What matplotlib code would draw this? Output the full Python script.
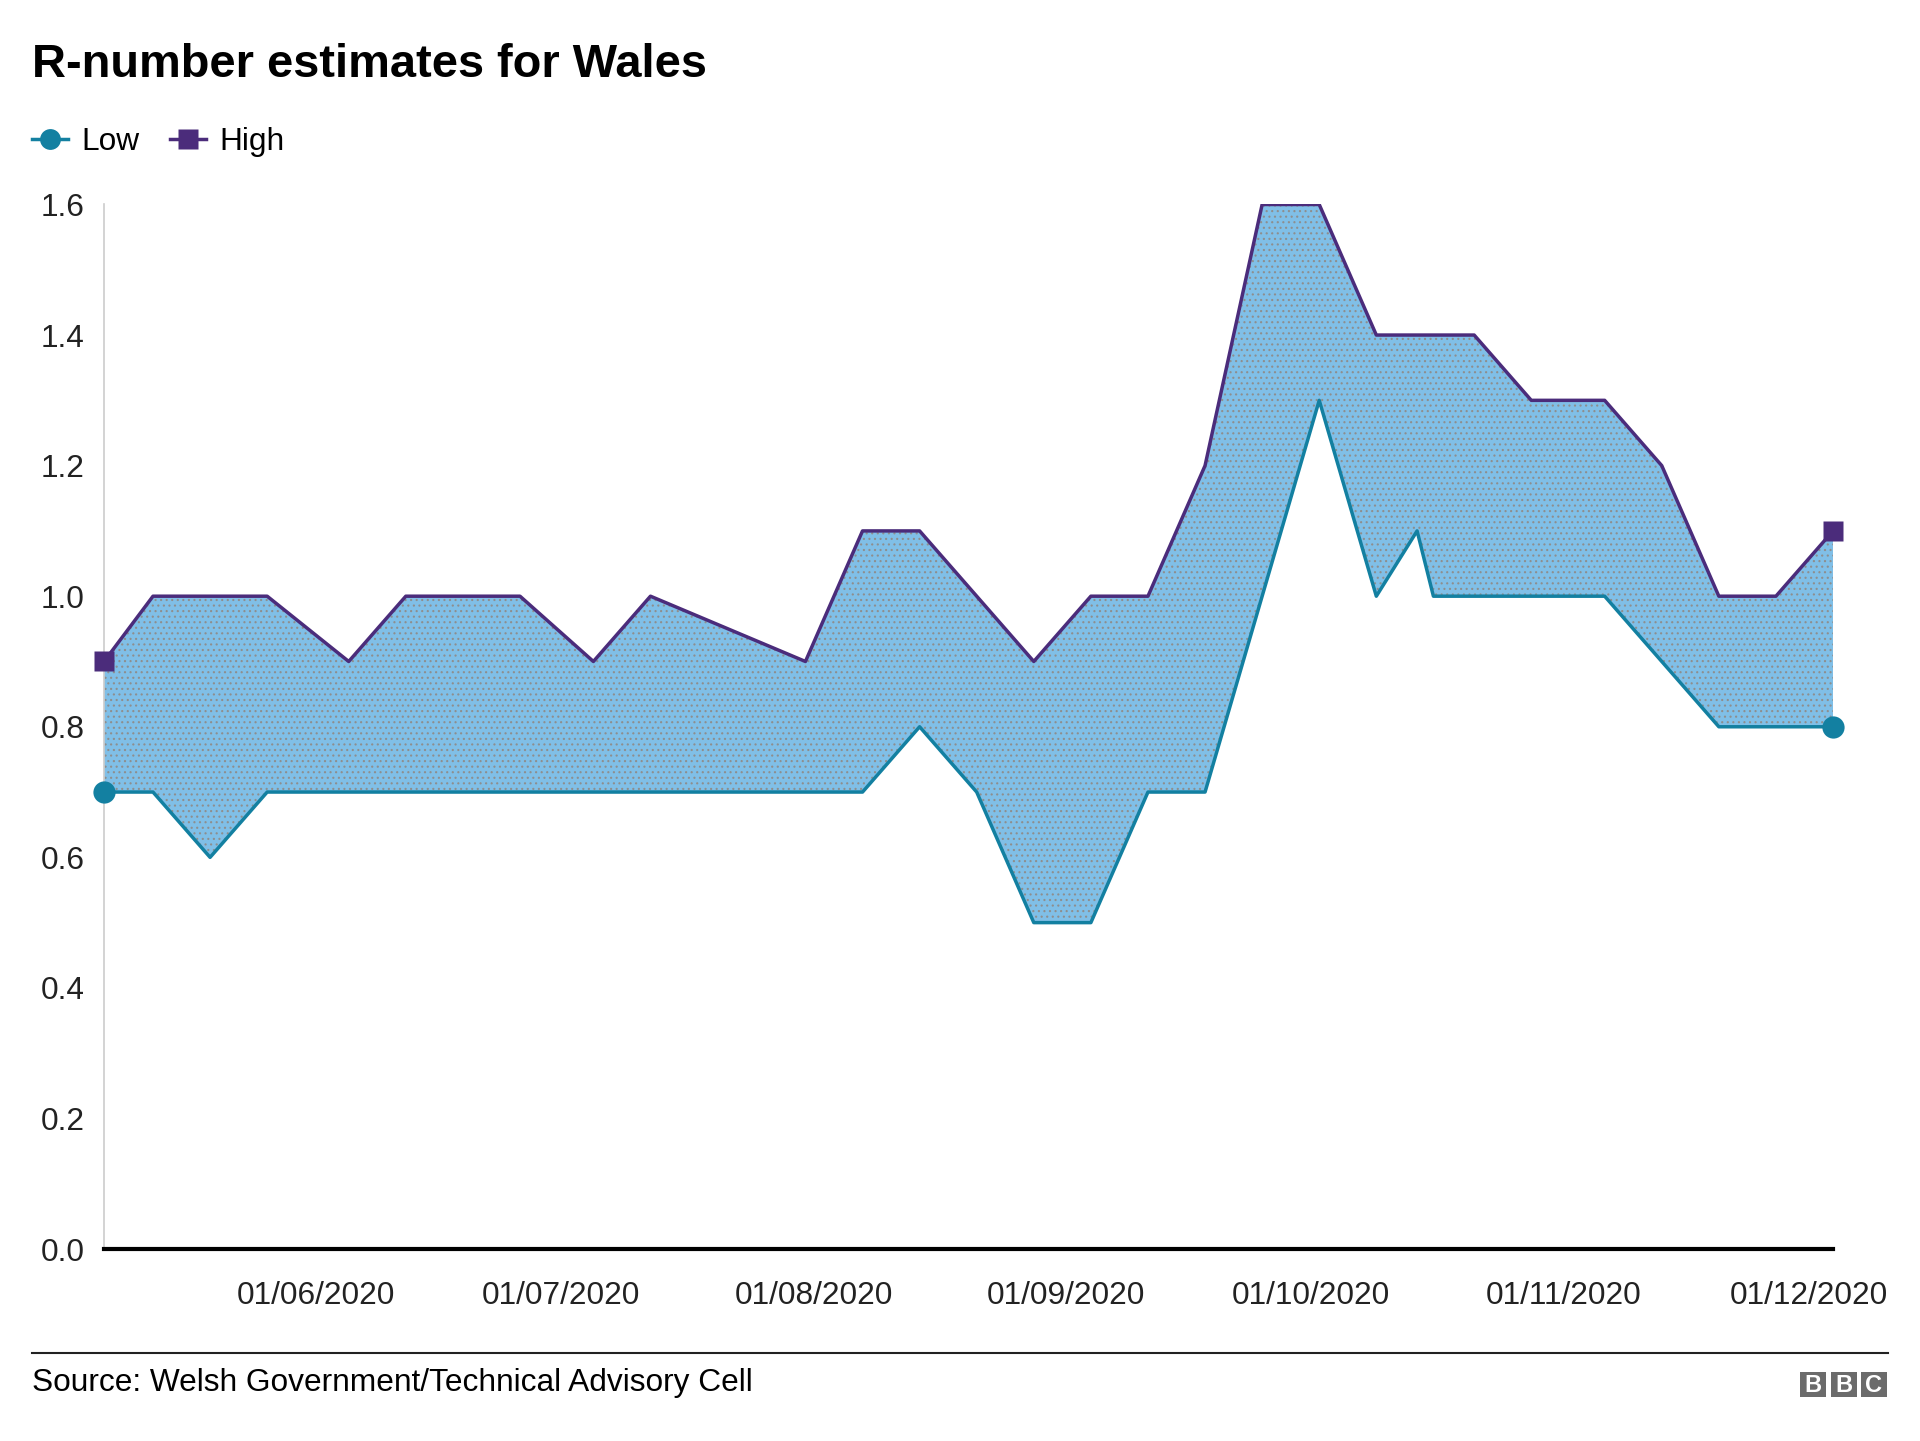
import numpy as np
import matplotlib
matplotlib.use("Agg")
import matplotlib.pyplot as plt
import matplotlib.dates as mdates
from matplotlib.lines import Line2D
from matplotlib.patches import Rectangle

plt.rcParams['font.family'] = ['Liberation Sans', 'DejaVu Sans']
plt.rcParams['hatch.linewidth'] = 0.8

# Data
high_dates = np.array(["2020-05-06", "2020-05-12", "2020-05-26", "2020-06-05", "2020-06-12",
                       "2020-06-26", "2020-07-05", "2020-07-12", "2020-07-31", "2020-08-07",
                       "2020-08-14", "2020-08-28", "2020-09-04", "2020-09-11", "2020-09-18",
                       "2020-09-25", "2020-10-02", "2020-10-09", "2020-10-21", "2020-10-28",
                       "2020-11-06", "2020-11-13", "2020-11-20", "2020-11-27", "2020-12-04"],
                      dtype="datetime64[D]")
high = np.array([0.9, 1.0, 1.0, 0.9, 1.0, 1.0, 0.9, 1.0, 0.9, 1.1, 1.1, 0.9, 1.0, 1.0, 1.2,
                 1.6, 1.6, 1.4, 1.4, 1.3, 1.3, 1.2, 1.0, 1.0, 1.1])

low_dates = np.array(["2020-05-06", "2020-05-12", "2020-05-19", "2020-05-26", "2020-08-07",
                      "2020-08-14", "2020-08-21", "2020-08-28", "2020-09-04", "2020-09-11",
                      "2020-09-18", "2020-10-02", "2020-10-09", "2020-10-14", "2020-10-16",
                      "2020-11-06", "2020-11-20", "2020-11-27", "2020-12-04"],
                     dtype="datetime64[D]")
low = np.array([0.7, 0.7, 0.6, 0.7, 0.7, 0.8, 0.7, 0.5, 0.5, 0.7, 0.7, 1.3, 1.0, 1.1, 1.0,
                1.0, 0.8, 0.8, 0.8])

month_ticks = np.array(["2020-06-01", "2020-07-01", "2020-08-01", "2020-09-01",
                        "2020-10-01", "2020-11-01", "2020-12-01"], dtype="datetime64[D]")
y_ticks = [0.0, 0.2, 0.4, 0.6, 0.8, 1.0, 1.2, 1.4, 1.6]

low_col = '#1380A1'
high_col = '#4B2C7B'
fill_col = '#80bfe7'
dot_col = '#8e8e8e'
fs = 22.8

fig = plt.figure(figsize=(19.2, 14.41), dpi=100)
ax = fig.add_axes([0.0542, 0.1332, 0.9005, 0.7249])

# Shaded band between the two estimates (dotted texture like the original)
band_x = np.concatenate([high_dates, low_dates[::-1]])
band_y = np.concatenate([high, low[::-1]])
ax.fill(band_x, band_y, facecolor=fill_col, edgecolor=dot_col, linewidth=0,
        hatch='...', zorder=1)

ax.plot(low_dates, low, color=low_col, lw=2.5, zorder=3)
ax.plot(high_dates, high, color=high_col, lw=2.5, zorder=3)

# End markers
ax.plot(low_dates[[0, -1]], low[[0, -1]], 'o', color=low_col, ms=16, mec='none', clip_on=False, zorder=4)
ax.plot(high_dates[[0, -1]], high[[0, -1]], 's', color=high_col, ms=15, mec='none', clip_on=False, zorder=4)

ax.set_xlim(high_dates[0], high_dates[-1])
ax.set_ylim(0, 1.6)
ax.set_yticks(y_ticks)
ax.set_yticklabels([f"{v:.1f}" for v in y_ticks])
ax.set_xticks(month_ticks)
ax.xaxis.set_major_formatter(mdates.DateFormatter("%d/%m/%Y"))
ax.tick_params(axis='both', length=0, labelsize=fs, colors='#222222')
ax.tick_params(axis='x', pad=23)
ax.tick_params(axis='y', pad=14)

for s in ['top', 'right']:
    ax.spines[s].set_visible(False)
ax.spines['left'].set_color('#cccccc')
ax.spines['left'].set_linewidth(1.2)
ax.spines['bottom'].set_color('#000000')
ax.spines['bottom'].set_linewidth(3)
ax.spines['bottom'].set_zorder(5)

# Title and legend
fig.text(0.0167, 0.9465, "R-number estimates for Wales", fontsize=33.8, fontweight='bold',
         ha='left', va='baseline', color='#000000')

handles = [Line2D([0], [0], color=low_col, lw=2.5, marker='o', ms=15, mec='none'),
           Line2D([0], [0], color=high_col, lw=2.5, marker='s', ms=14, mec='none')]
fig.legend(handles, ["Low", "High"], loc='center left', bbox_to_anchor=(0.0167, 0.9015),
           ncol=2, frameon=False, fontsize=fs, handlelength=1.15, handletextpad=0.42,
           columnspacing=0.95, borderpad=0, borderaxespad=0)

# Footer
fig.add_artist(Line2D([0.0167, 0.9833], [0.061, 0.061], transform=fig.transFigure,
                      color='#222222', lw=1.5))
fig.text(0.0167, 0.0400, "Source: Welsh Government/Technical Advisory Cell", fontsize=fs,
         ha='left', va='center', color='#000000')

box_w = 26 / 1920
box_h = 25 / 1441
for i, letter in enumerate("BBC"):
    x0 = (1800 + i * 30.5) / 1920
    y0 = 1 - 1397 / 1441
    fig.add_artist(Rectangle((x0, y0), box_w, box_h, transform=fig.transFigure,
                             facecolor='#6b6b6b', edgecolor='none'))
    fig.text(x0 + box_w / 2, y0 + box_h / 2 - 0.0005, letter, fontsize=17, fontweight='bold',
             color='white', ha='center', va='center')

fig.savefig("out.png", dpi=100)
